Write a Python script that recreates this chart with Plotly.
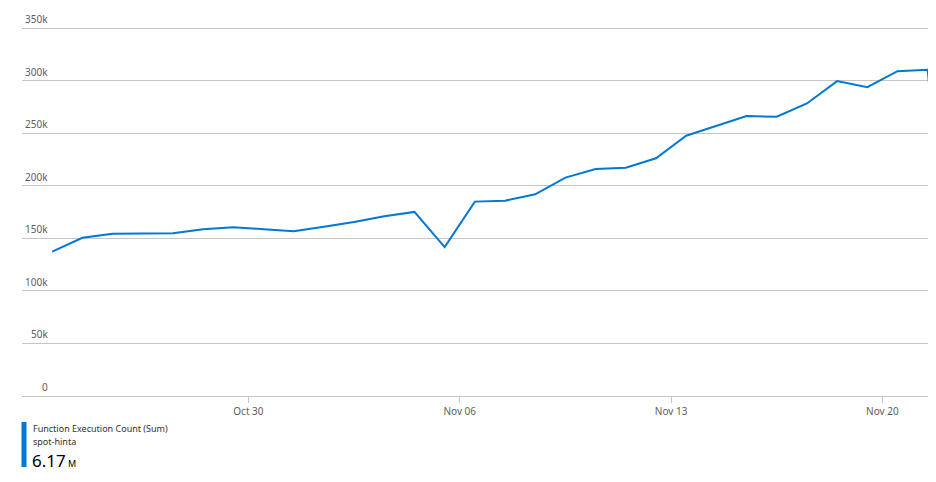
import plotly.graph_objects as go

# ---- data ----
dates = [
    "2023-10-23", "2023-10-24", "2023-10-25", "2023-10-26", "2023-10-27",
    "2023-10-28", "2023-10-29", "2023-10-30", "2023-10-31", "2023-11-01",
    "2023-11-02", "2023-11-03", "2023-11-04", "2023-11-05", "2023-11-06",
    "2023-11-07", "2023-11-08", "2023-11-09", "2023-11-10", "2023-11-11",
    "2023-11-12", "2023-11-13", "2023-11-14", "2023-11-15", "2023-11-16",
    "2023-11-17", "2023-11-18", "2023-11-19", "2023-11-20", "2023-11-21",
    "2023-11-22",
]
exec_counts = [
    137400, 150500, 154300, 154600, 154800, 158600, 160500, 158700, 156800, 161000,
    165500, 171000, 175100, 141600, 184900, 185800, 191900, 207700, 215900, 217200,
    226100, 247600, 257000, 266300, 265600, 278300, 299500, 293800, 309000, 310300,
    13000,
]
point_time = "12:00"
y_ticks = [0, 50000, 100000, 150000, 200000, 250000, 300000, 350000]
y_labels = ["0", "50k", "100k", "150k", "200k", "250k", "300k", "350k"]
y_max = 351000
x_ticks = ["2023-10-30", "2023-11-06", "2023-11-13", "2023-11-20"]
x_labels = ["Oct 30", "Nov 06", "Nov 13", "Nov 20"]
x_range = ["2023-10-22 12:00", "2023-11-21 12:15"]
metric_name = "Function Execution Count (Sum)"
resource_name = "spot-hinta"
total_value = "6.17"
total_unit = "M"

# ---- layout geometry (page pixels; the page body adds an 8px margin) ----
OFF = 8
W, H = 936 - OFF, 482 - 2 * OFF - 2
PLOT_L, PLOT_R, PLOT_T, PLOT_B = 22, 928, 27, 396
ML = PLOT_L - OFF
MT = PLOT_T - OFF
MR = W - (PLOT_R - OFF)
MB = H - (PLOT_B - OFF)
PW, PH = PLOT_R - PLOT_L, PLOT_B - PLOT_T

def px(x):
    return (x - PLOT_L) / PW

def py(y):
    return (PLOT_B - y) / PH

BLUE = "#0078d4"
GRID = "#c8c6c4"
TXT_GREY = "#605e5c"
TXT_DARK = "#323130"
FONT = "Noto Sans, Open Sans, sans-serif"

fig = go.Figure()
fig.add_trace(go.Scatter(
    x=[f"{d} {point_time}" for d in dates],
    y=exec_counts,
    mode="lines",
    line=dict(color=BLUE, width=2),
    hoverinfo="x+y",
    showlegend=False,
))

annotations = []
for v, lab in zip(y_ticks, y_labels):
    annotations.append(dict(
        x=0, y=v, xref="paper", yref="y", text=lab, showarrow=False,
        xanchor="right", yanchor="bottom", xshift=28, yshift=0,
        font=dict(family=FONT, size=10, color=TXT_GREY),
    ))

annotations += [
    dict(x=px(31), y=py(428.5), xref="paper", yref="paper", text=metric_name,
         showarrow=False, xanchor="left", yanchor="middle",
         font=dict(family=FONT, size=9, color=TXT_DARK)),
    dict(x=px(31), y=py(441), xref="paper", yref="paper", text=resource_name,
         showarrow=False, xanchor="left", yanchor="middle",
         font=dict(family=FONT, size=9, color=TXT_DARK)),
    dict(x=px(30), y=py(460.5), xref="paper", yref="paper",
         text=f"{total_value}<span style='font-size:9px'> {total_unit}</span>",
         showarrow=False, xanchor="left", yanchor="middle",
         font=dict(family=FONT, size=17, color="#000000")),
]

fig.update_layout(
    width=W, height=H,
    margin=dict(l=ML, r=MR, t=MT, b=MB, pad=0),
    paper_bgcolor="white", plot_bgcolor="white",
    font=dict(family=FONT, size=10, color=TXT_GREY),
    xaxis=dict(
        type="date", range=x_range,
        tickvals=x_ticks, ticktext=x_labels,
        showgrid=False, zeroline=False,
        showline=True, linecolor=GRID, linewidth=1,
        ticks="outside", ticklen=6, tickcolor=GRID, tickwidth=1,
        tickfont=dict(family=FONT, size=10, color=TXT_GREY),
        fixedrange=True,
    ),
    yaxis=dict(
        range=[0, y_max], tickvals=y_ticks, showticklabels=False,
        showgrid=True, gridcolor=GRID, gridwidth=1,
        zeroline=False, showline=False, ticks="",
        fixedrange=True,
    ),
    shapes=[dict(
        type="rect", xref="paper", yref="paper",
        x0=px(21.5), x1=px(26.5), y0=py(467), y1=py(422),
        fillcolor=BLUE, line=dict(width=0),
    )],
    annotations=annotations,
)

fig.write_html("out.html")
